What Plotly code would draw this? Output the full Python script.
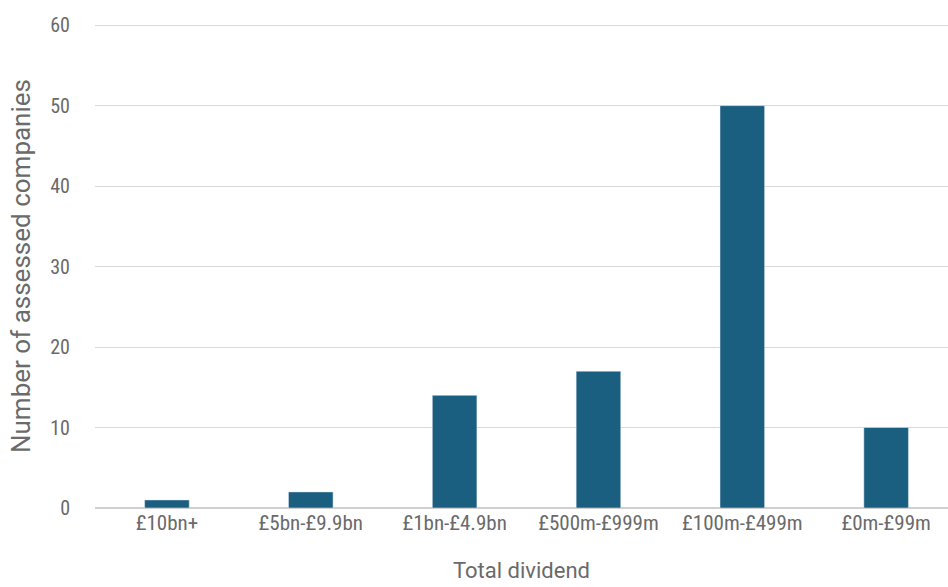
import plotly.graph_objects as go

categories = ["£10bn+", "£5bn-£9.9bn", "£1bn-£4.9bn", "£500m-£999m", "£100m-£499m", "£0m-£99m"]
values = [1, 2, 14, 17, 50, 10]
y_ticks = [0, 10, 20, 30, 40, 50, 60]

font_family = "Liberation Sans Narrow, Roboto Condensed, Roboto, sans-serif"

fig = go.Figure(go.Bar(
    x=categories, y=values, marker_color="#1a5e80", width=0.31,
))
fig.update_layout(
    width=948, height=587,
    margin=dict(l=95, r=0, t=24, b=79, autoexpand=False),
    plot_bgcolor="white", paper_bgcolor="white",
    showlegend=False,
    font=dict(family=font_family, color="#6a6a6a"),
)
fig.update_xaxes(
    range=[-0.5, 5.43],
    tickfont=dict(size=21, color="#6a6a6a"),
    title=dict(text="Total dividend", font=dict(size=22, color="#6a6a6a", family="Roboto, sans-serif"), standoff=28),
    showline=False, ticks="",
)
fig.update_yaxes(
    range=[0, 60.15], tickvals=y_ticks,
    tickfont=dict(size=20, color="#6a6a6a"),
    title=dict(text="Number of assessed companies", font=dict(size=26, color="#6a6a6a", family="Roboto, sans-serif"), standoff=12),
    showgrid=True, gridcolor="#d9d9d9", gridwidth=1,
    zeroline=True, zerolinecolor="#d0d0d0", zerolinewidth=2,
    ticklabelstandoff=24,
)
fig.write_html("out.html")
